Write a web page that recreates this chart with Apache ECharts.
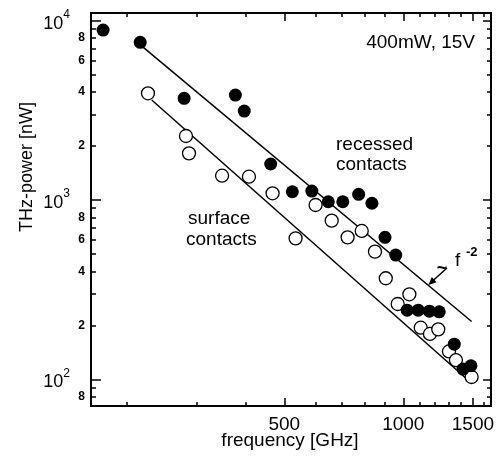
<!DOCTYPE html>
<html>
<head>
<meta charset="utf-8">
<script src="https://cdn.jsdelivr.net/npm/echarts@6/dist/echarts.min.js"></script>
<style>
html, body { margin: 0; padding: 0; background: #fff; }
#chart { width: 498px; height: 460px; }
</style>
</head>
<body>
<div id="chart"></div>
<script>
// recessed contacts (filled) and surface contacts (open), frequency in GHz, power in nW
var recessedFreq  = [174, 216, 279, 376, 396, 462, 524, 587, 646, 703, 771, 833, 899, 957, 1023, 1091, 1164, 1233, 1346, 1416, 1483];
var recessedPower = [8870, 7580, 3690, 3850, 3133, 1588, 1112, 1122, 978, 978, 1076, 959, 619, 493, 243, 243, 240, 238, 157, 114, 119];
var surfaceFreq   = [226, 282, 287, 348, 407, 467, 534, 600, 659, 723, 785, 848, 903, 968, 1036, 1107, 1168, 1226, 1305, 1359, 1489];
var surfacePower  = [3936, 2275, 1821, 1366, 1349, 1090, 611, 938, 767, 619, 672, 515, 366, 263, 298, 194, 179, 190, 143, 128, 103];

// ~ f^-2 guide lines
var recessedFitFreq  = [220, 1489];
var recessedFitPower = [7106, 210];
var surfaceFitFreq   = [231, 1489];
var surfaceFitPower  = [3612, 95];

// tick values
var xMajorTicks = [500, 1000, 1500];
var xMinorTicks = [200, 300, 400, 600, 700, 800, 900, 1100, 1200, 1300, 1400, 1600];
var yMajorTicks = [100, 1000, 10000];
var yMinorTicks = [80, 90, 200, 300, 400, 500, 600, 700, 800, 900, 2000, 3000, 4000, 5000, 6000, 7000, 8000, 9000];
var yMinorLabels = [80, 200, 400, 600, 800, 2000, 4000, 6000, 8000];

var FONT = 'Liberation Sans, Arial, Helvetica, sans-serif';
var lg = Math.log10;

function toPoints(fs, ps) {
    return fs.map(function (f, i) { return [lg(f), lg(ps[i])]; });
}

var xRange = { min: 2.2100, max: 3.2219 };
var yRange = { min: 1.8511, max: 4.0430 };

function xAxisOf(pos, ticks, len, labels) {
    return {
        type: 'value', position: pos, min: xRange.min, max: xRange.max,
        axisLine: { show: false }, splitLine: { show: false },
        axisTick: { show: true, inside: true, length: len, customValues: ticks.map(lg),
                    lineStyle: { color: '#000', width: 1.5 } },
        axisLabel: labels ? {
            show: true, customValues: labels.map(lg), margin: 9,
            color: '#000', fontSize: 19, fontFamily: FONT,
            formatter: function (v) { return String(Math.round(Math.pow(10, v))); }
        } : { show: false }
    };
}

function yAxisOf(pos, ticks, len, label) {
    return {
        type: 'value', position: pos, min: yRange.min, max: yRange.max,
        axisLine: { show: false }, splitLine: { show: false },
        axisTick: { show: true, inside: true, length: len, customValues: ticks.map(lg),
                    lineStyle: { color: '#000', width: 1.5 } },
        axisLabel: label || { show: false }
    };
}

var chart = echarts.init(document.getElementById('chart'));

var option = {
    animation: false,
    backgroundColor: '#fff',
    grid: { left: 91, right: 7, top: 13, bottom: 54, show: true,
            borderColor: '#000', borderWidth: 2, backgroundColor: 'transparent' },
    xAxis: [
        xAxisOf('bottom', xMajorTicks, 8, xMajorTicks),
        xAxisOf('bottom', xMinorTicks, 4, null),
        xAxisOf('top', xMajorTicks, 8, null),
        xAxisOf('top', xMinorTicks, 4, null)
    ],
    yAxis: [
        yAxisOf('left', yMajorTicks, 10, {
            show: true, customValues: yMajorTicks.map(lg), margin: 21, color: '#000',
            formatter: function (v) { return '{b|10}{s|' + Math.round(v) + '}'; },
            rich: {
                b: { fontSize: 18, fontFamily: FONT, color: '#000', lineHeight: 24, verticalAlign: 'bottom' },
                s: { fontSize: 12, fontFamily: FONT, color: '#000', lineHeight: 12, verticalAlign: 'top' }
            }
        }),
        yAxisOf('left', yMinorTicks, 5, {
            show: true, customValues: yMinorLabels.map(lg), margin: 6,
            color: '#000', fontSize: 12, fontWeight: 'bold', fontFamily: FONT,
            formatter: function (v) {
                var p = Math.pow(10, v);
                return String(Math.round(p / Math.pow(10, Math.floor(v + 1e-9))));
            }
        }),
        yAxisOf('right', yMajorTicks, 8, null),
        yAxisOf('right', yMinorTicks, 4, null)
    ],
    series: [
        {
            type: 'line', data: toPoints(surfaceFitFreq, surfaceFitPower),
            showSymbol: false, lineStyle: { color: '#000', width: 1.5 }, z: 2
        },
        {
            type: 'line', data: toPoints(recessedFitFreq, recessedFitPower),
            showSymbol: false, lineStyle: { color: '#000', width: 1.5 }, z: 2
        },
        {
            type: 'scatter', data: toPoints(surfaceFreq, surfacePower),
            symbol: 'circle', symbolSize: 13,
            itemStyle: { color: '#fff', borderColor: '#000', borderWidth: 1.3, opacity: 1 }, z: 3
        },
        {
            type: 'scatter', data: toPoints(recessedFreq, recessedPower),
            symbol: 'circle', symbolSize: 13,
            itemStyle: { color: '#000', opacity: 1 }, z: 4
        }
    ],
    graphic: [
        { type: 'text', x: 27, y: 167, rotation: Math.PI / 2,
          style: { text: 'THz-power [nW]', font: '18px ' + FONT, fill: '#000', align: 'center', verticalAlign: 'middle' } },
        { type: 'text', x: 290, y: 441,
          style: { text: 'frequency [GHz]', font: '19px ' + FONT, fill: '#000', align: 'center', verticalAlign: 'middle' } },
        { type: 'text', x: 475, y: 43,
          style: { text: '400mW, 15V', font: '19px ' + FONT, fill: '#000', align: 'right', verticalAlign: 'middle' } },
        { type: 'text', x: 336, y: 145,
          style: { text: 'recessed', font: '19px ' + FONT, fill: '#000', align: 'left', verticalAlign: 'middle' } },
        { type: 'text', x: 336, y: 165,
          style: { text: 'contacts', font: '19px ' + FONT, fill: '#000', align: 'left', verticalAlign: 'middle' } },
        { type: 'text', x: 188, y: 219,
          style: { text: 'surface', font: '19px ' + FONT, fill: '#000', align: 'left', verticalAlign: 'middle' } },
        { type: 'text', x: 186, y: 240,
          style: { text: 'contacts', font: '19px ' + FONT, fill: '#000', align: 'left', verticalAlign: 'middle' } },
        { type: 'text', x: 442, y: 269,
          style: { text: '~', font: 'bold 18px ' + FONT, fill: '#000', align: 'center', verticalAlign: 'middle' } },
        { type: 'text', x: 455, y: 261,
          style: { text: 'f', font: '19px ' + FONT, fill: '#000', align: 'left', verticalAlign: 'middle' } },
        { type: 'text', x: 466, y: 252,
          style: { text: '-2', font: 'bold 13px ' + FONT, fill: '#000', align: 'left', verticalAlign: 'middle' } },
        { type: 'line', shape: { x1: 447, y1: 268, x2: 432, y2: 281.5 },
          style: { stroke: '#000', lineWidth: 1.5 } },
        { type: 'polygon', shape: { points: [[428.3, 285], [436.6, 282.2], [431.8, 277]] },
          style: { fill: '#000' } }
    ]
};

chart.setOption(option);
</script>
</body>
</html>
